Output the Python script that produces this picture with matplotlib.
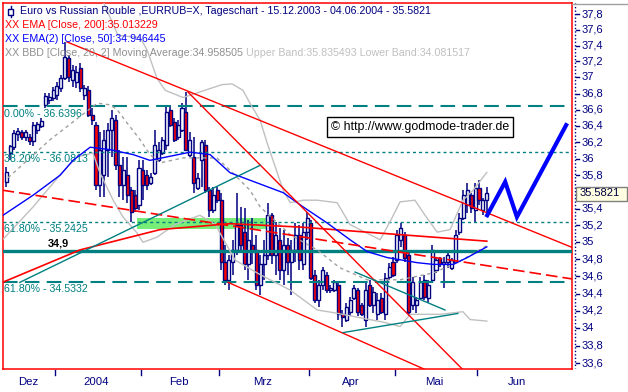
import numpy as np
import matplotlib
matplotlib.use("Agg")
import matplotlib.pyplot as plt
import matplotlib.transforms as mtransforms
from matplotlib.patches import Rectangle
from matplotlib.lines import Line2D
from matplotlib.ticker import NullLocator, NullFormatter

plt.rcParams['font.family'] = ['Liberation Sans', 'DejaVu Sans']

# daily candles EUR/RUB, 15.12.2003 - 04.06.2004 (one entry per trading day)
opens = [
    35.72, 36.07, 36.14, 36.30, 36.32, 36.27, 36.27, 36.21, 36.35, 36.40,
    36.66, 36.72, 36.745, 36.78, 36.87, 36.995, 37.245, 36.97, 36.945, 37.12,
    36.78, 36.845, 36.54, 36.41, 35.68, 35.80, 36.11, 36.35, 36.475, 35.92,
    35.68, 35.80, 35.62, 35.56, 35.44, 35.86, 35.80, 35.71, 35.83, 35.98,
    36.07, 36.17, 36.60, 36.45, 36.26, 36.35, 36.57, 36.05, 36.02, 35.65,
    35.98, 36.17, 35.62, 35.38, 35.62, 35.50, 34.77, 34.56, 34.77, 34.91,
    35.21, 35.12, 34.74, 34.97, 34.91, 34.50, 34.74, 34.85, 35.32, 34.85,
    35.03, 34.67, 34.97, 34.77, 34.91, 35.09, 34.74, 35.12, 35.23, 34.62,
    34.33, 34.50, 34.62, 34.44, 34.44, 34.50, 34.16, 34.10, 34.19, 34.35,
    34.44, 34.27, 34.10, 34.50, 34.27, 34.16, 34.35, 34.16, 34.59, 34.77,
    34.79, 35.03, 35.09, 34.85, 34.27, 34.27, 34.35, 34.56, 34.35, 34.56,
    34.67, 34.82, 34.74, 34.77, 34.70, 34.77, 35.12, 35.29, 35.44, 35.56,
    35.38, 35.65, 35.38, 35.50]
highs = [
    35.90, 36.17, 36.35, 36.38, 36.35, 36.35, 36.30, 36.45, 36.45, 36.50,
    36.81, 36.81, 36.88, 36.945, 37.03, 37.445, 37.28, 37.16, 37.145, 37.18,
    36.91, 36.895, 36.62, 36.45, 36.32, 36.35, 36.44, 36.60, 36.54, 36.11,
    36.02, 36.02, 35.66, 35.62, 35.98, 35.98, 35.86, 35.83, 36.35, 36.20,
    36.27, 36.63, 36.66, 36.50, 36.475, 36.68, 36.82, 36.32, 36.27, 35.83,
    36.23, 36.23, 35.66, 35.66, 35.66, 35.59, 34.97, 34.85, 35.03, 35.59,
    35.42, 35.41, 35.26, 35.29, 35.09, 34.85, 35.03, 35.47, 35.35, 35.24,
    35.17, 35.15, 35.05, 35.03, 35.23, 35.21, 35.23, 35.36, 35.26, 34.67,
    34.56, 34.71, 34.65, 34.50, 34.56, 34.53, 34.21, 34.29, 34.36, 34.50,
    34.47, 34.29, 34.52, 34.56, 34.48, 34.41, 34.41, 34.64, 34.76, 34.83,
    35.15, 35.23, 35.12, 34.88, 34.59, 34.36, 34.59, 34.62, 34.56, 34.97,
    34.83, 34.83, 34.83, 34.91, 34.82, 35.15, 35.35, 35.62, 35.71, 35.59,
    35.71, 35.74, 35.53, 35.66]
lows = [
    35.66, 35.98, 36.11, 36.21, 36.23, 36.21, 36.17, 36.15, 36.30, 36.38,
    36.62, 36.67, 36.71, 36.72, 36.82, 36.97, 36.945, 36.88, 36.87, 36.82,
    36.72, 36.51, 36.41, 35.62, 35.54, 35.54, 35.78, 36.02, 35.86, 35.54,
    35.50, 35.47, 35.24, 35.36, 35.38, 35.50, 35.62, 35.68, 35.80, 35.96,
    36.05, 36.11, 36.39, 36.20, 36.23, 36.32, 36.09, 36.02, 35.59, 35.62,
    35.66, 35.59, 35.30, 35.35, 35.47, 34.67, 34.50, 34.44, 34.62, 34.85,
    34.91, 34.67, 34.56, 34.74, 34.44, 34.38, 34.56, 34.79, 34.74, 34.62,
    34.56, 34.50, 34.62, 34.38, 34.77, 34.67, 34.67, 35.03, 34.56, 34.29,
    34.25, 34.44, 34.41, 34.41, 34.42, 34.10, 34.02, 34.07, 34.14, 34.33,
    34.14, 34.14, 34.01, 34.24, 34.18, 34.10, 34.16, 34.10, 34.56, 34.59,
    34.76, 34.95, 34.77, 34.14, 34.21, 34.18, 34.33, 34.33, 34.29, 34.53,
    34.64, 34.71, 34.47, 34.70, 34.67, 34.76, 35.09, 35.26, 35.35, 35.35,
    35.23, 35.44, 35.32, 35.30]
closes = [
    35.84, 36.15, 36.31, 36.34, 36.26, 36.32, 36.21, 36.41, 36.43, 36.46,
    36.77, 36.76, 36.845, 36.895, 36.995, 37.26, 37.01, 37.095, 37.07, 36.87,
    36.87, 36.54, 36.475, 35.68, 36.11, 36.23, 36.35, 36.50, 35.92, 35.68,
    35.86, 35.56, 35.36, 35.41, 35.89, 35.68, 35.68, 35.78, 36.17, 36.11,
    36.23, 36.57, 36.41, 36.23, 36.41, 36.62, 36.11, 36.23, 35.71, 35.77,
    36.20, 35.62, 35.38, 35.56, 35.50, 34.77, 34.56, 34.79, 34.91, 35.21,
    34.97, 34.74, 35.03, 34.91, 34.50, 34.74, 34.85, 35.32, 34.85, 35.09,
    34.67, 34.97, 34.77, 34.91, 35.09, 34.79, 35.12, 35.29, 34.58, 34.33,
    34.50, 34.67, 34.44, 34.47, 34.53, 34.16, 34.13, 34.24, 34.33, 34.47,
    34.19, 34.16, 34.44, 34.27, 34.42, 34.33, 34.19, 34.58, 34.71, 34.62,
    35.09, 35.17, 34.82, 34.19, 34.53, 34.33, 34.53, 34.36, 34.50, 34.91,
    34.79, 34.74, 34.77, 34.85, 34.79, 35.09, 35.29, 35.56, 35.62, 35.41,
    35.65, 35.50, 35.50, 35.5821]

# month axis (bar index of first trading day of each month)
month_names = ['Dez', '2004', 'Feb', 'Mrz', 'Apr', 'Mai', 'Jun']
month_starts = [0, 13, 35, 55, 78, 100, 121, 142]

# indicators (bar index, price)
ema200_x = [-0.93, 18.9, 39.4, 57.3, 75.2, 100.8, 123]
ema200_y = [34.53, 34.91, 35.15, 35.22, 35.18, 35.09, 35.013]
ema50_x = [-0.8, 6.9, 13.8, 17.1, 21.5, 26.6, 32.5, 36.8, 47.1, 52.2, 57.3, 62.4,
           70.9, 76.0, 82.1, 88.0, 92.4, 97.5, 105.2, 109.3, 114.4, 118.0, 123]
ema50_y = [35.32, 35.56, 35.80, 35.98, 36.14, 36.11, 36.05, 35.98, 36.08, 36.05, 35.83, 35.74,
           35.59, 35.42, 35.23, 35.03, 34.89, 34.82, 34.76, 34.74, 34.74, 34.82, 34.946]
bb_up_x = [25.0, 28.6, 34.3, 36.1, 38.6, 40.7, 45.3, 49.6, 55.2, 57.8, 60.6, 62.4, 65.0,
           66.8, 68.3, 70.9, 72.7, 76.0, 79.6, 84.7, 88.0, 91.8, 95.7, 98.2, 100.8, 104.6,
           107.2, 110.3, 113.6, 116.9, 119.5, 123]
bb_up_y = [37.94, 37.53, 37.50, 37.34, 36.99, 36.84, 36.75, 36.82, 36.91, 36.92, 36.84, 36.68, 36.47,
           36.19, 35.98, 35.62, 35.47, 35.50, 35.50, 35.47, 35.21, 35.12, 35.03, 35.24, 35.48, 35.50,
           35.32, 35.12, 35.15, 35.50, 35.62, 35.835]
bb_mid_x = [0.5, 11.2, 23.3, 26.6, 28.4, 30.9, 34.3, 36.8, 39.4, 45.3, 53.9, 57.3, 62.4,
            65.0, 72.7, 79.6, 85.4, 92.4, 100.8, 109.3, 115.4, 123]
bb_mid_y = [35.77, 36.23, 36.68, 36.66, 36.60, 36.44, 36.23, 36.05, 35.95, 36.01, 36.01, 35.86, 35.62,
            35.42, 35.09, 34.91, 34.70, 34.56, 34.56, 34.64, 34.76, 34.959]
bb_lo_x = [-0.9, 6.9, 14.3, 18.1, 22.2, 24.0, 27.4, 29.9, 33.5, 35.0, 38.6, 43.2, 49.6, 53.5,
           58.6, 65.0, 72.7, 79.6, 83.7, 96.5, 100.8, 103.4, 111.0, 116.9, 118.7, 123]
bb_lo_y = [35.03, 35.42, 35.83, 36.02, 36.07, 35.83, 35.50, 35.30, 35.11, 35.00, 35.06, 35.21, 35.32, 35.21,
           34.79, 34.62, 34.44, 34.21, 34.18, 34.07, 34.02, 34.16, 34.16, 34.19, 34.10, 34.082]

# fibonacci levels and support line
fib_levels = [36.6396, 36.0813, 35.2425, 34.5332]
fib_labels = ['0.00% - 36.6396', '38.20% - 36.0813', '61.80% - 35.2425', '61.80% - 34.5332']
fib_styles = ['long', 'short', 'short', 'long']
support = 34.9

# trend lines: (x0, y0, x1, y1)
red_lines = [(15.6, 37.445, 144.8, 34.94),
             (46.5, 36.82, 116.7, 33.536),
             (56.8, 34.53, 106.9, 33.536)]
red_dashed = (-0.93, 35.62, 144.8, 34.57)
teal_lines = [(3.5, 34.53, 65.0, 35.92),
              (89.3, 34.65, 112.3, 34.21),
              (86.2, 33.95, 115.6, 34.17)]
zone_x = (33.5, 68.3)
zone_y = (35.16, 35.29)
proj_x = [123.1, 127.7, 130.7, 143.3]
proj_y = [35.32, 35.72, 35.30, 36.41]

price_ticks = [37.8, 37.6, 37.4, 37.2, 37.0, 36.8, 36.6, 36.4, 36.2, 36.0, 35.8,
               35.4, 35.2, 35.0, 34.8, 34.6, 34.4, 34.2, 34.0, 33.8, 33.6]

NAVY = '#000080'
TEAL = '#008080'
FS = 7.6

W, H = 628, 392
fig = plt.figure(figsize=(W / 100, H / 100), dpi=100)
fig.patch.set_facecolor('white')


def fx(x):
    return x / W


def fy(y):
    return 1 - y / H


L, R, T, B = 2.5, 572, 2.5, 369
ax = fig.add_axes([fx(L), fy(B), (R - L) / W, (B - T) / H])
ax.set_yscale('log')
ax.set_ylim(33.536, 37.947)
ax.set_xlim(-0.93, 144.8)
ax.yaxis.set_major_locator(NullLocator())
ax.yaxis.set_minor_locator(NullLocator())
ax.yaxis.set_minor_formatter(NullFormatter())
ax.tick_params(which='both', left=False, labelleft=False, bottom=False, labelbottom=False)
for sp in ax.spines.values():
    sp.set_color('red')
    sp.set_linewidth(1.1)

# zone
ax.add_patch(Rectangle((zone_x[0], zone_y[0]), zone_x[1] - zone_x[0], zone_y[1] - zone_y[0],
                       facecolor='#77ee77', edgecolor='none', zorder=1))

# candles
o, h, l, c = map(np.array, (opens, highs, lows, closes))
idx = np.arange(len(c))
ax.vlines(idx, l, h, color=NAVY, lw=1.1, zorder=3)
ax.bar(idx, np.maximum(np.abs(c - o), 0.004), bottom=np.minimum(o, c), width=0.78,
       color=np.where(c >= o, 'white', 'red'), edgecolor=NAVY, lw=1.0, zorder=4)

# fibonacci lines
for lev, lab, st in zip(fib_levels, fib_labels, fib_styles):
    if st == 'long':
        ax.axhline(lev, color=TEAL, lw=1.5, dashes=(7, 3.5), zorder=5)
    else:
        ax.axhline(lev, color=TEAL, lw=1.0, dashes=(2.2, 2.2), zorder=5)
    ax.annotate(lab, xy=(0, lev), xycoords=ax.get_yaxis_transform(), xytext=(1, -1.5),
                textcoords='offset points', va='top', ha='left', color=TEAL, fontsize=FS + 0.1,
                zorder=6)
ax.axhline(support, color=TEAL, lw=2.4, zorder=5)
ax.annotate('34,9', xy=(0.098, support), xycoords=ax.get_yaxis_transform(), xytext=(0, 1.5),
            textcoords='offset points', va='bottom', ha='center', color='black',
            fontsize=FS + 0.2, fontweight='bold', zorder=6)

# bollinger bands
ax.plot(bb_up_x, bb_up_y, color='#c0c0c0', lw=1, zorder=5)
ax.plot(bb_lo_x, bb_lo_y, color='#c0c0c0', lw=1, zorder=5)
ax.plot(bb_mid_x, bb_mid_y, color='#a0a0a0', lw=1, dashes=(2.5, 2.5), zorder=5)

# moving averages
ax.plot(ema200_x, ema200_y, color='red', lw=1.2, zorder=6)
ax.plot(ema50_x, ema50_y, color='blue', lw=1, zorder=6)

# trend lines
for x0, y0, x1, y1 in red_lines:
    ax.plot([x0, x1], [y0, y1], color='red', lw=1, zorder=6)
ax.plot(red_dashed[::2], red_dashed[1::2], color='red', lw=1.2, dashes=(7, 3), zorder=6)
for x0, y0, x1, y1 in teal_lines:
    ax.plot([x0, x1], [y0, y1], color=TEAL, lw=1, zorder=6)

# projection
ax.plot(proj_x, proj_y, color='blue', lw=3, zorder=7, solid_joinstyle='miter')

# copyright box
ax.text((420 - L) / (R - L), 1 - (127 - T) / (B - T), '\u00a9 http://www.godmode-trader.de',
        transform=ax.transAxes, ha='center', va='center', fontsize=FS + 1.3, color='black',
        bbox=dict(boxstyle='square,pad=0.35', facecolor='white', edgecolor='black', lw=1),
        zorder=8)

# month axis
bx = mtransforms.blended_transform_factory(ax.transData, fig.transFigure)
for k, name in enumerate(month_names):
    mid = (month_starts[k] + month_starts[k + 1]) / 2 - 0.5
    ax.text(mid - 0.4, fy(382), name, transform=bx, ha='center', va='center',
            color=NAVY, fontsize=FS + 0.6)
for s in month_starts[1:-1]:
    ax.add_line(Line2D([s - 0.5, s - 0.5], [fy(370), fy(375)], transform=bx, color=NAVY,
                       lw=1, clip_on=False))

# price axis
by = mtransforms.blended_transform_factory(fig.transFigure, ax.transData)
fig.add_artist(Line2D([fx(574.5)] * 2, [fy(3), fy(368)], color=NAVY, lw=1, ls=(0, (1, 1.5))))
fig.add_artist(Line2D([fx(572), fx(628)], [fy(3.5)] * 2, color='#a0a0a0', lw=1))
for v in price_ticks:
    lab = ('%g' % v).replace('.', ',')
    ax.add_line(Line2D([fx(576), fx(579)], [v, v], transform=by, color=NAVY, lw=1, clip_on=False))
    ax.text(fx(582), v, lab, transform=by, ha='left', va='center', color=NAVY,
            fontsize=FS + 0.4, clip_on=False)
fig.add_artist(Rectangle((fx(576), fy(200.5)), (627 - 576) / W, 14 / H, facecolor='#ffffe1',
                         edgecolor='#808080', lw=1, zorder=10))
fig.text(fx(580), fy(193.5), '35.5821', ha='left', va='center', color='#000040',
         fontsize=FS + 0.4, zorder=11)

# header
fig.add_artist(Line2D([fx(10.5)] * 2, [fy(6), fy(17)], color=NAVY, lw=1, zorder=11))
fig.add_artist(Rectangle((fx(8), fy(14.5)), 5 / W, 6 / H, facecolor='white', edgecolor=NAVY,
                         lw=1, zorder=12))
hfs = FS + 0.05
fig.text(fx(20), fy(11.5), 'Euro vs Russian Rouble ,EURRUB=X, Tageschart - 15.12.2003 - 04.06.2004 - 35.5821',
         color=NAVY, fontsize=hfs, va='center', ha='left', zorder=11)
fig.text(fx(5), fy(25.5), 'XX EMA [Close, 200]:35.013229', color='red', fontsize=hfs,
         va='center', ha='left', zorder=11)
fig.text(fx(5), fy(39.5), 'XX EMA(2) [Close, 50]:34.946445', color='blue', fontsize=hfs,
         va='center', ha='left', zorder=11)
t1 = fig.text(fx(5), fy(53), 'XX BBD [Close, 20, 2] Moving Average:34.958505', color='#909090',
              fontsize=hfs, va='center', ha='left', zorder=11)
ax.annotate(' Upper Band:35.835493 Lower Band:34.081517', xy=(1, 0), xycoords=t1, va='bottom',
            ha='left', color='#c0c0c0', fontsize=hfs, zorder=11, annotation_clip=False)

fig.savefig('out.png', dpi=100, facecolor='white')
